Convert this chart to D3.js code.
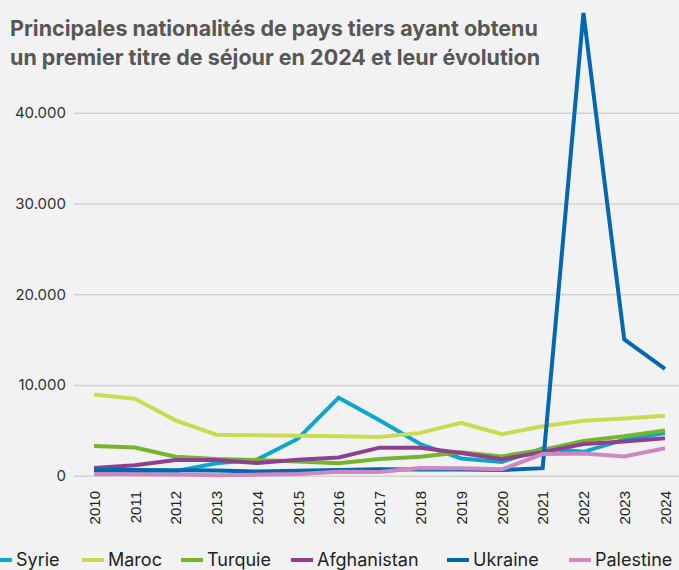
<!DOCTYPE html>
<html>
<head>
<meta charset="utf-8">
<script src="https://cdn.jsdelivr.net/npm/d3@7"></script>
<style>
  html, body { margin: 0; padding: 0; background: #f2f2f2; }
  svg { display: block; }
</style>
</head>
<body>
<svg id="chart" width="679" height="570"></svg>
<script>
// Years on the horizontal axis
const years = [2010, 2011, 2012, 2013, 2014, 2015, 2016, 2017, 2018, 2019, 2020, 2021, 2022, 2023, 2024];

// First residence permits per nationality
const syrie       = [400, 450, 500, 1380, 1780, 4080, 8600, 6100, 3490, 1900, 1520, 3000, 2630, 3980, 4700];
const maroc       = [8950, 8480, 6100, 4520, 4450, 4400, 4340, 4270, 4720, 5840, 4580, 5450, 6050, 6300, 6600];
const turquie     = [3280, 3100, 2100, 1850, 1730, 1560, 1380, 1850, 2090, 2590, 2130, 2850, 3840, 4350, 4980];
const afghanistan = [850, 1150, 1720, 1730, 1400, 1750, 2000, 3090, 3090, 2500, 1820, 2600, 3500, 3780, 4130];
const ukraine     = [640, 620, 600, 560, 450, 540, 640, 700, 680, 680, 620, 830, 51000, 15030, 11760];
const palestine   = [180, 170, 120, 60, 120, 180, 440, 400, 850, 810, 700, 2380, 2450, 2120, 3030];

const seriesNames  = ["Syrie", "Maroc", "Turquie", "Afghanistan", "Ukraine", "Palestine"];
const seriesValues = [syrie, maroc, turquie, afghanistan, ukraine, palestine];
const seriesColors = ["#0aa6cc", "#cbdb50", "#74b52c", "#8f3f8f", "#0067b1", "#cd89bf"];

const yTicks = [0, 10000, 20000, 30000, 40000];
const titleLines = [
  "Principales nationalités de pays tiers ayant obtenu",
  "un premier titre de séjour en 2024 et leur évolution"
];

const svg = d3.select("#chart");
const W = 679;

const x = d3.scalePoint().domain(years).range([94, 665]);
const y = d3.scaleLinear().domain([0, 40000]).range([475.7, 112.7]);

const fmt = v => d3.format(",")(v).replace(/,/g, ".");

// Title
svg.append("g").selectAll("text")
  .data(titleLines)
  .join("text")
  .attr("x", 10)
  .attr("y", (d, i) => 36 + i * 29)
  .attr("font-family", "Inter, 'Open Sans', sans-serif")
  .attr("font-weight", 700)
  .attr("font-size", 21.5)
  .attr("fill", "#575757")
  .text(d => d);

// Horizontal gridlines and value labels
const yAxis = svg.append("g")
  .attr("transform", "translate(74,0)")
  .call(d3.axisLeft(y).tickValues(yTicks).tickSize(-(W - 74)).tickPadding(8).tickFormat(fmt));
yAxis.select(".domain").remove();
yAxis.selectAll(".tick line").attr("stroke", "#d2d2d2").attr("stroke-width", 1.5);
yAxis.selectAll(".tick text")
  .attr("font-family", "Inter, sans-serif")
  .attr("font-size", 15)
  .attr("fill", "#333");

// Year labels, rotated
const xAxis = svg.append("g")
  .attr("transform", "translate(0,489)")
  .call(d3.axisBottom(x).tickSize(0).tickPadding(0));
xAxis.select(".domain").remove();
xAxis.selectAll(".tick text")
  .attr("transform", "rotate(-90)")
  .attr("text-anchor", "end")
  .attr("x", -2)
  .attr("y", 0)
  .attr("dy", "0.35em")
  .attr("font-family", "'Liberation Sans', Arial, sans-serif")
  .attr("font-size", 15)
  .attr("fill", "#222");

// Lines
const line = d3.line()
  .x((d, i) => x(years[i]))
  .y(d => y(d))
  .curve(d3.curveLinear);

svg.append("g").selectAll("path")
  .data(seriesValues)
  .join("path")
  .attr("d", line)
  .attr("fill", "none")
  .attr("stroke", (d, i) => seriesColors[i])
  .attr("stroke-width", 4)
  .attr("stroke-linejoin", "miter")
  .attr("stroke-linecap", "butt");

// Legend
const legendX = [-10, 82, 181, 291, 447, 569];
const legend = svg.append("g").selectAll("g")
  .data(seriesNames)
  .join("g")
  .attr("transform", (d, i) => `translate(${legendX[i]},560)`);
legend.append("line")
  .attr("x1", 0).attr("x2", 22)
  .attr("y1", 0).attr("y2", 0)
  .attr("stroke", (d, i) => seriesColors[i])
  .attr("stroke-width", 4);
legend.append("text")
  .attr("x", 26)
  .attr("y", 0)
  .attr("dy", "0.36em")
  .attr("font-family", "Inter, sans-serif")
  .attr("font-size", 18)
  .attr("fill", "#222")
  .text(d => d);
</script>
</body>
</html>
